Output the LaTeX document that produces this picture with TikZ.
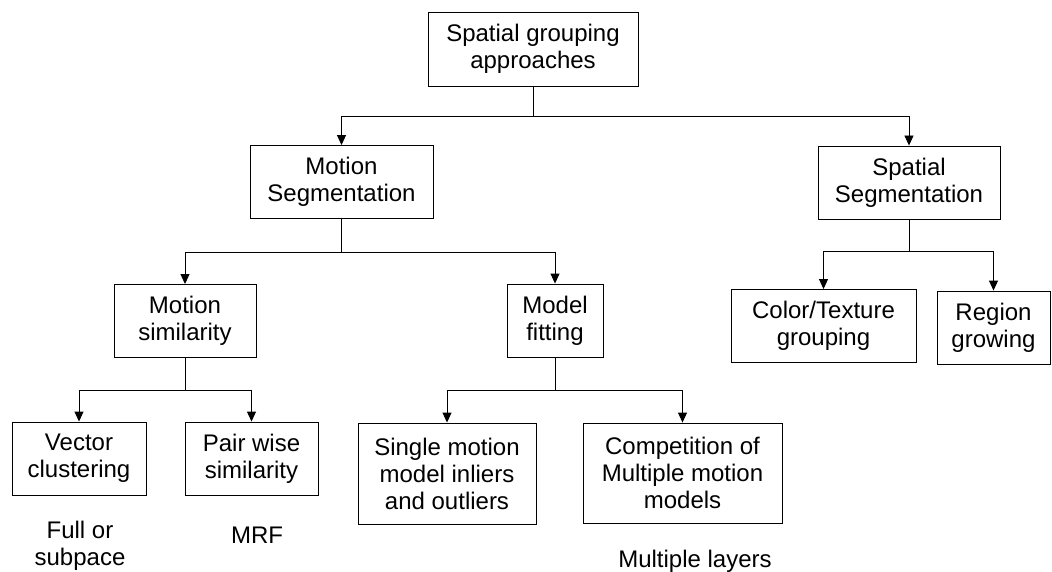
\documentclass[tikz,border=0pt]{standalone}
\usepackage{fontspec}
\setmainfont{Liberation Sans}
\usetikzlibrary{positioning, arrows.meta}

\begin{document}
\begin{tikzpicture}[on grid, every node/.style={font=\fontsize{24}{27}\selectfont, align=center},
    box/.style={draw, rectangle, line width=0.9pt, inner sep=0pt, minimum height=73pt},
    >={Triangle[length=10pt, width=9pt]}, line width=0.9pt]
  \useasboundingbox (0,0) rectangle (1052pt,-572pt);

  \node[box, minimum width=210pt, minimum height=74pt] (root) at (533pt,-49pt) {Spatial grouping\\approaches};

  \node[box, minimum width=183pt, below left=133pt and 191.5pt of root] (mseg) {Motion\\Segmentation};
  \node[box, minimum width=182pt, below right=133.5pt and 376pt of root] (sseg) {Spatial\\Segmentation};

  \node[box, minimum width=142pt, below left=139pt and 156.5pt of mseg] (msim) {Motion\\similarity};
  \node[box, minimum width=96pt, below right=138.5pt and 213.5pt of mseg] (mfit) {Model\\fitting};

  \node[box, minimum width=185pt, below left=143.5pt and 85.5pt of sseg] (color) {Color/Texture\\grouping};
  \node[box, minimum width=113pt, below right=145pt and 84.5pt of sseg] (region) {Region\\growing};

  \node[box, minimum width=134pt, below left=137.5pt and 106pt of msim] (vec) {Vector\\clustering};
  \node[box, minimum width=133pt, below right=137.5pt and 66.5pt of msim] (pair) {Pair wise\\similarity};

  \node[box, minimum width=178pt, minimum height=101pt, below left=153pt and 108pt of mfit] (single) {Single motion\\model inliers\\and outliers};
  \node[box, minimum width=199pt, minimum height=100pt, below right=152.5pt and 127.5pt of mfit] (comp) {Competition of\\Multiple motion\\models};

  \node[below=87.5pt of vec, xshift=1pt] (fullor) {Full or\\subpace};
  \node[below=76.5pt of pair, xshift=5.5pt] (mrf) {MRF};
  \node[below=88pt of comp, xshift=12.5pt] (layers) {Multiple layers};

  \draw[->] (root.south) -- ++(0,-30pt) -| (mseg.north);
  \draw[->] (root.south) -- ++(0,-30pt) -| (sseg.north);
  \draw[->] (mseg.south) -- ++(0,-33pt) -| (msim.north);
  \draw[->] (mseg.south) -- ++(0,-33pt) -| (mfit.north);
  \draw[->] (sseg.south) -- ++(0,-32pt) -| (color.north);
  \draw[->] (sseg.south) -- ++(0,-32pt) -| (region.north);
  \draw[->] (msim.south) -- ++(0,-32pt) -| (vec.north);
  \draw[->] (msim.south) -- ++(0,-32pt) -| (pair.north);
  \draw[->] (mfit.south) -- ++(0,-33pt) -| (single.north);
  \draw[->] (mfit.south) -- ++(0,-33pt) -| (comp.north);
\end{tikzpicture}
\end{document}
